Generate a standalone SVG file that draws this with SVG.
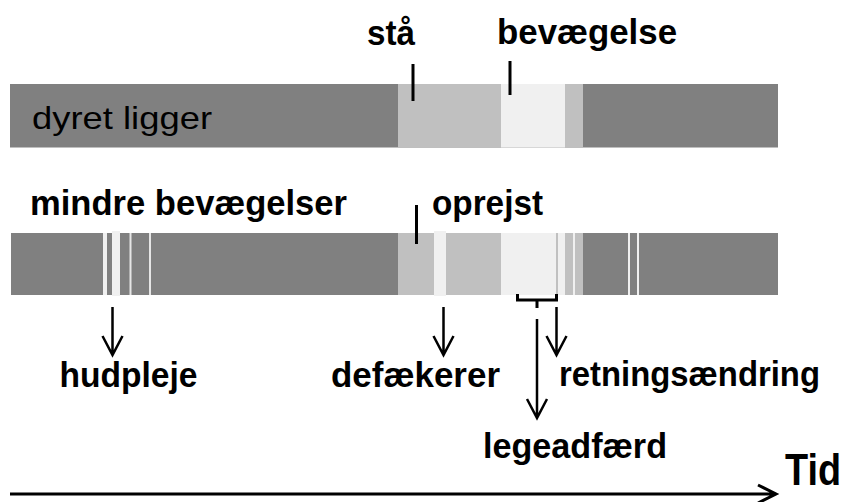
<svg xmlns="http://www.w3.org/2000/svg" width="847" height="502" viewBox="0 0 847 502">
<style>
.dk{fill:#808080}
.lg{fill:#c0c0c0}
.wt{fill:#f0f0f0}
.ln{fill:#e6e6e6}
.b{font-family:"Liberation Sans",Arial,sans-serif;font-weight:bold;font-size:35px;fill:#000}
.r{font-family:"Liberation Sans",Arial,sans-serif;font-size:32px;fill:#000}
.k{stroke:#000;stroke-width:3;fill:none;stroke-linecap:butt}
.a{stroke:#000;stroke-width:2.5;fill:none}
</style>
<rect width="847" height="502" fill="#fff"/>
<g id="top-bar">
<rect class="dk" x="10" y="84" width="768" height="63.5"/>
<rect class="lg" x="398" y="84" width="103" height="63.5"/>
<rect class="wt" x="501" y="84" width="64" height="63.5"/>
<rect class="lg" x="565" y="84" width="18" height="63.5"/>
<text class="r" x="32" y="129" textLength="180" lengthAdjust="spacingAndGlyphs">dyret ligger</text>
</g>
<g id="bottom-bar">
<rect class="dk" x="11" y="233" width="767" height="62"/>
<rect class="wt" x="103" y="233" width="4" height="62"/>
<rect class="wt" x="112" y="231" width="8" height="65"/>
<rect class="ln" x="129.5" y="233" width="2" height="62"/>
<rect class="ln" x="149" y="233" width="2" height="62"/>
<rect class="lg" x="398" y="233" width="36" height="62"/>
<rect class="wt" x="434" y="231" width="12" height="65"/>
<rect class="lg" x="446" y="233" width="55" height="62"/>
<rect class="wt" x="501" y="233" width="55" height="62"/>
<rect class="lg" x="556" y="233" width="2" height="62"/>
<rect class="wt" x="558" y="233" width="7" height="62"/>
<rect class="lg" x="565" y="233" width="8" height="62"/>
<rect class="wt" x="573" y="233" width="2" height="62"/>
<rect class="lg" x="575" y="233" width="8" height="62"/>
<rect class="wt" x="628" y="233" width="2" height="62"/>
<rect class="wt" x="637" y="233" width="2" height="62"/>
</g>
<g id="label-staa"><text class="b" x="367" y="45" textLength="48" lengthAdjust="spacingAndGlyphs">stå</text></g>
<g id="label-bevaegelse"><text class="b" x="497" y="44" textLength="180" lengthAdjust="spacingAndGlyphs">bevægelse</text></g>
<g id="label-mindre"><text class="b" x="30" y="215" textLength="317" lengthAdjust="spacingAndGlyphs">mindre bevægelser</text></g>
<g id="label-oprejst"><text class="b" x="432" y="215" textLength="111" lengthAdjust="spacingAndGlyphs">oprejst</text></g>
<g id="label-hudpleje"><text class="b" x="59.5" y="387" textLength="138" lengthAdjust="spacingAndGlyphs">hudpleje</text></g>
<g id="label-defaekerer"><text class="b" x="331" y="387" textLength="169" lengthAdjust="spacingAndGlyphs">defækerer</text></g>
<g id="label-retning"><text class="b" x="559" y="386" textLength="261" lengthAdjust="spacingAndGlyphs">retningsændring</text></g>
<g id="label-lege"><text class="b" x="483" y="458" textLength="184" lengthAdjust="spacingAndGlyphs">legeadfærd</text></g>
<g id="label-tid"><text class="b" transform="translate(785,485) scale(0.86,1)" x="0" y="0" style="font-size:44px">Tid</text></g>
<g id="connectors">
<line class="k" x1="413" y1="64" x2="413" y2="101"/>
<line class="k" x1="510" y1="61" x2="510" y2="95"/>
<line class="k" x1="416.5" y1="205" x2="416.5" y2="244"/>
<path class="k" d="M517.5,294 V300 H556.5 V294 M537,300 V308"/>
<path class="a" d="M112.5,307 V355 M102.5,336 L112.5,355 L122.5,336"/>
<path class="a" d="M443.5,307 V355 M433.5,336 L443.5,355 L453.5,336"/>
<path class="a" d="M556.5,307 V355 M546.5,336 L556.5,355 L566.5,336"/>
<path class="a" d="M537,319 V418 M527,399 L537,418 L547,399"/>
<path class="k" d="M10,494 H776 M758,485 L776,494 L758,503"/>
</g>
</svg>
